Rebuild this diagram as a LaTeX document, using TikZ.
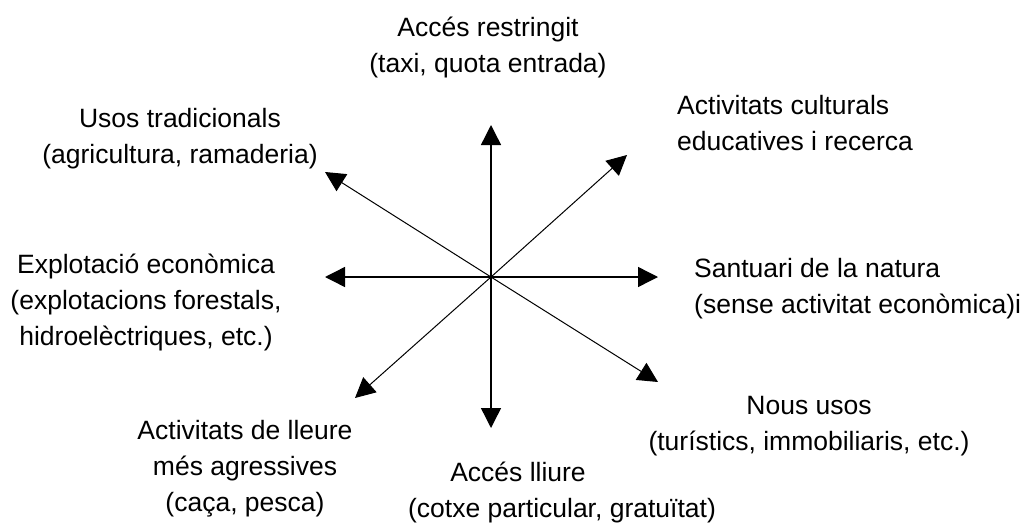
\documentclass[tikz,border=0pt]{standalone}
\usepackage{fontspec}
\setmainfont{Liberation Sans}
\usetikzlibrary{arrows.meta}

\begin{document}
\begin{tikzpicture}[x=1pt,y=-1pt,
    every node/.style={font=\fontsize{26.5}{36}\selectfont, inner sep=0pt},
    vec/.style={-{Triangle[length=20pt,width=20pt]}, line width=1pt},
    axisvec/.style={vec, line width=1.4pt}]
    \useasboundingbox (0,0) rectangle (1027,522);

    \coordinate (o) at (491,277);
    \coordinate (n) at (491,125);
    \coordinate (s) at (491,428);
    \coordinate (w) at (325,277);
    \coordinate (e) at (658,277);
    \coordinate (ne) at (627,155);
    \coordinate (nw) at (325,172);
    \coordinate (sw) at (355,398);
    \coordinate (se) at (658,382);

    \draw[axisvec] (o) -- (n);
    \draw[axisvec] (o) -- (s);
    \draw[axisvec] (o) -- (w);
    \draw[axisvec] (o) -- (e);
    \draw[vec] (o) -- (ne);
    \draw[vec] (o) -- (nw);
    \draw[vec] (o) -- (sw);
    \draw[vec] (o) -- (se);

    \node[align=center] (restr) at (488,47) {Accés restringit\\(taxi, quota entrada)};
    \node[align=left, anchor=west] (cult) at (677,123) {Activitats culturals\\educatives i recerca};
    \node[align=center] (trad) at (180,139) {Usos tradicionals\\(agricultura, ramaderia)};
    \node[align=center] (explo) at (146,302) {Explotació econòmica\\(explotacions forestals,\\hidroelèctriques, etc.)};
    \node[align=left, anchor=west] (sant) at (694,289) {Santuari de la natura\\(sense activitat econòmica)i};
    \node[align=center] (nous) at (809,426) {Nous usos\\(turístics, immobiliaris, etc.)};
    \node[align=center] (lleure) at (245,469) {Activitats de lleure\\més agressives\\(caça, pesca)};
    \node[align=center] (lliure) at (562,492) {Accés lliure\hspace*{88pt}\\(cotxe particular, gratuïtat)};
\end{tikzpicture}
\end{document}
